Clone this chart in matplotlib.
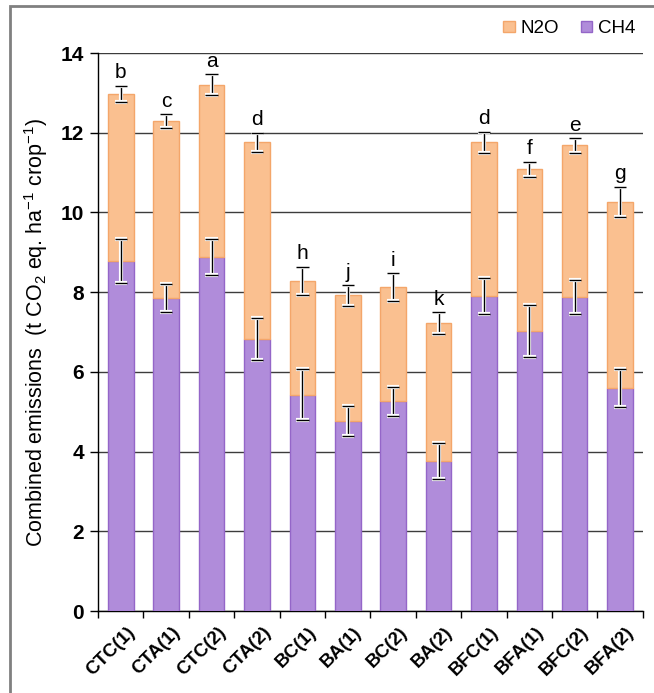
import matplotlib.pyplot as plt
import matplotlib.patheffects as pe
from matplotlib.patches import Rectangle
import numpy as np

plt.rcParams['font.family'] = ['Liberation Sans', 'DejaVu Sans']
plt.rcParams['mathtext.fontset'] = 'custom'
plt.rcParams['mathtext.rm'] = 'Liberation Sans'
plt.rcParams['mathtext.default'] = 'regular'

treatments = ['CTC(1)', 'CTA(1)', 'CTC(2)', 'CTA(2)', 'BC(1)', 'BA(1)',
              'BC(2)', 'BA(2)', 'BFC(1)', 'BFA(1)', 'BFC(2)', 'BFA(2)']
ch4 = [8.78, 7.85, 8.88, 6.83, 5.43, 4.77, 5.26, 3.76, 7.90, 7.03, 7.87, 5.60]
ch4_err = [0.55, 0.36, 0.45, 0.53, 0.65, 0.37, 0.36, 0.46, 0.46, 0.65, 0.43, 0.47]
total = [12.98, 12.29, 13.21, 11.76, 8.29, 7.92, 8.13, 7.23, 11.76, 11.08, 11.68, 10.26]
total_err = [0.20, 0.18, 0.26, 0.24, 0.35, 0.26, 0.34, 0.27, 0.27, 0.19, 0.18, 0.38]
letters = ['b', 'c', 'a', 'd', 'h', 'j', 'i', 'k', 'd', 'f', 'e', 'g']
n2o = [t - c for t, c in zip(total, ch4)]

orange, orange_edge = '#fac090', '#f4a66a'
purple, purple_edge = '#b08cda', '#9466c8'

fig = plt.figure(figsize=(6.54, 6.93), dpi=100)
ax = fig.add_axes([0.150, 0.1183, 0.833, 0.8052])

x = np.arange(len(treatments))
w = 0.56
ax.bar(x, ch4, w, color=purple, edgecolor=purple_edge, linewidth=1, zorder=3, label='CH4')
ax.bar(x, n2o, w, bottom=ch4, color=orange, edgecolor=orange_edge, linewidth=1, zorder=3, label='N2O')

glow = [pe.withStroke(linewidth=3, foreground='white')]
for vals, errs in [(ch4, ch4_err), (total, total_err)]:
    eb = ax.errorbar(x, vals, yerr=errs, fmt='none', ecolor='black', elinewidth=1,
                     capsize=4.5, capthick=1, zorder=4)
    for art in list(eb.lines[1]) + list(eb.lines[2]):
        art.set_path_effects(glow)

for xi, t, e, s in zip(x, total, total_err, letters):
    ax.annotate(s, (xi, t + e), xytext=(0, 2.5), textcoords='offset points',
                ha='center', va='bottom', fontsize=15)

ax.set_ylim(0, 14)
ax.set_xlim(-0.5, len(treatments) - 0.5)
ax.set_yticks(range(0, 15, 2))
ax.yaxis.grid(True, color='#3c3c3c', linewidth=1, zorder=0)
ax.set_axisbelow(True)
for side in ['top', 'right']:
    ax.spines[side].set_visible(False)
ax.spines['left'].set_linewidth(1)
ax.spines['bottom'].set_linewidth(1)

ax.set_xticks(x + 0.12)
ax.set_xticklabels(treatments, rotation=45, ha='right', rotation_mode='anchor',
                   fontsize=13.5, fontweight='bold')
ax.set_xticks(np.arange(len(treatments) + 1) - 0.5, minor=True)
ax.tick_params(axis='x', which='major', length=0, pad=9)
ax.tick_params(axis='x', which='minor', length=5, width=1)
ax.tick_params(axis='y', length=6, width=1, labelsize=15, pad=4)
for lab in ax.get_yticklabels():
    lab.set_fontweight('bold')

ax.set_ylabel('Combined emissions  (t CO$_2$ eq. ha$^{-1}$ crop$^{-1}$)', fontsize=15.5, labelpad=8)

handles, labels = ax.get_legend_handles_labels()
ax.legend(handles[::-1], labels[::-1], loc='lower right', bbox_to_anchor=(1.0, 1.015),
          ncol=2, frameon=False, fontsize=13.5, handlelength=0.6, handleheight=0.6,
          handletextpad=0.3, columnspacing=1.2, borderaxespad=0)

# outer frame
fig.patches.append(Rectangle((10 / 654, -0.1), 1.2, 1 - 6 / 693 + 0.1, transform=fig.transFigure,
                             fill=False, edgecolor='#808080', linewidth=2))

fig.savefig('out.png', dpi=100)
